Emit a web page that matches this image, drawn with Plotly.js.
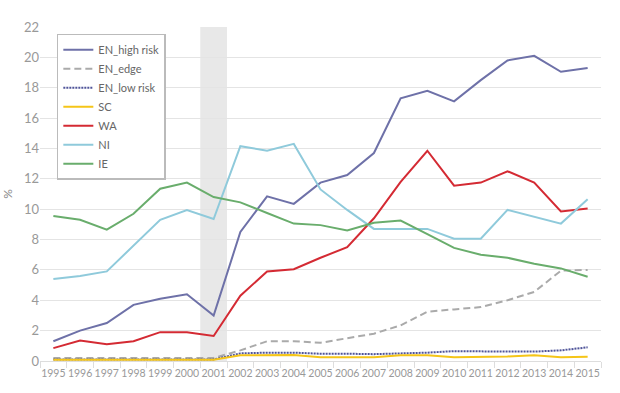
<!DOCTYPE html>
<html>
<head>
<meta charset="utf-8">
<script src="https://cdn.plot.ly/plotly-3.0.1.min.js"></script>
<style>html,body{margin:0;padding:0;background:#fff;}#chart{width:620px;height:393px;}</style>
</head>
<body>
<div id="chart"></div>
<script>
var years = [1995,1996,1997,1998,1999,2000,2001,2002,2003,2004,2005,2006,2007,2008,2009,2010,2011,2012,2013,2014,2015];
var yearLabels = years.map(String);
var enHigh = [1.3,2.0,2.5,3.7,4.1,4.4,3.0,8.5,10.85,10.35,11.75,12.25,13.7,17.3,17.8,17.1,18.5,19.8,20.1,19.05,19.3];
var enEdge = [0.2,0.2,0.2,0.2,0.2,0.2,0.2,0.7,1.3,1.3,1.2,1.5,1.8,2.35,3.25,3.4,3.55,4.0,4.55,5.95,6.0];
var enLow = [0.1,0.1,0.1,0.1,0.1,0.1,0.1,0.5,0.55,0.55,0.48,0.48,0.45,0.5,0.55,0.65,0.62,0.62,0.62,0.7,0.9];
var sc = [0.08,0.08,0.08,0.08,0.08,0.08,0.08,0.38,0.4,0.4,0.25,0.25,0.25,0.38,0.38,0.25,0.25,0.3,0.38,0.25,0.28];
var wa = [0.85,1.35,1.1,1.3,1.9,1.9,1.65,4.3,5.9,6.05,6.8,7.5,9.4,11.8,13.85,11.55,11.75,12.5,11.75,9.85,10.05];
var ni = [5.4,5.6,5.9,7.6,9.3,9.95,9.35,14.15,13.85,14.3,11.3,9.95,8.7,8.7,8.7,8.05,8.05,9.95,9.5,9.05,10.65];
var ie = [9.55,9.3,8.65,9.7,11.35,11.75,10.8,10.45,9.75,9.05,8.95,8.6,9.1,9.25,8.35,7.45,7.0,6.8,6.4,6.1,5.55];
var seriesNames = ['EN_high risk','EN_edge','EN_low risk','SC','WA','NI','IE'];
var shadedYear = 2001;

var styles = [
  {color:'#6E71A8', width:2, dash:'solid'},
  {color:'#AAAAAA', width:2, dash:'7px,4px'},
  {color:'#4F5499', width:2, dash:'2px,1px'},
  {color:'#F5C518', width:2, dash:'solid'},
  {color:'#D42A33', width:2, dash:'solid'},
  {color:'#8FCADB', width:2, dash:'solid'},
  {color:'#69AD6C', width:2, dash:'solid'}
];
var values = [enHigh, enEdge, enLow, sc, wa, ni, ie];
var traces = values.map(function(v,i){
  return {x: years, y: v, name: seriesNames[i], type:'scatter', mode:'lines',
          line: {color: styles[i].color, width: styles[i].width, dash: styles[i].dash}};
});

var layout = {
  width: 620, height: 393,
  margin: {l:40, r:19, t:27, b:32},
  paper_bgcolor:'#fff', plot_bgcolor:'#fff',
  font: {family:'Lato, "Open Sans", sans-serif', color:'#888'},
  showlegend: true,
  legend: {x:0.03, y:0.98, xanchor:'left', yanchor:'top', bgcolor:'#fff',
           bordercolor:'#BBBBBB', borderwidth:1.5, font:{size:11, color:'#666'},
           tracegroupgap:0},
  xaxis: {range:[1994.5, 2015.5], tickmode:'array', tickvals: years, ticktext: yearLabels,
          tickangle:0, automargin:false, ticklabelstandoff:2,
          ticks:'', showgrid:false, zeroline:false, showline:true, linecolor:'#DDDDDD', linewidth:1,
          tickfont:{size:10.5, color:'#999'},
          minor:{tick0:1994.5, dtick:1, ticks:'outside', ticklen:6, tickcolor:'#DDDDDD', tickwidth:1, showgrid:false}},
  yaxis: {range:[0,22], dtick:2, tick0:0, showgrid:true, gridcolor:'#E4E4E4', gridwidth:1,
          zeroline:false, showline:false, ticks:'', tickfont:{size:13, color:'#999'},
          title:{text:'%', font:{size:12, color:'#888'}, standoff:8}},
  shapes: [{type:'rect', xref:'x', yref:'y', x0: shadedYear-0.5, x1: shadedYear+0.5, y0:0, y1:22,
            fillcolor:'#E8E8E8', line:{width:0}, layer:'below'}]
};
Plotly.newPlot('chart', traces, layout, {staticPlot:true, displayModeBar:false});
</script>
</body>
</html>
